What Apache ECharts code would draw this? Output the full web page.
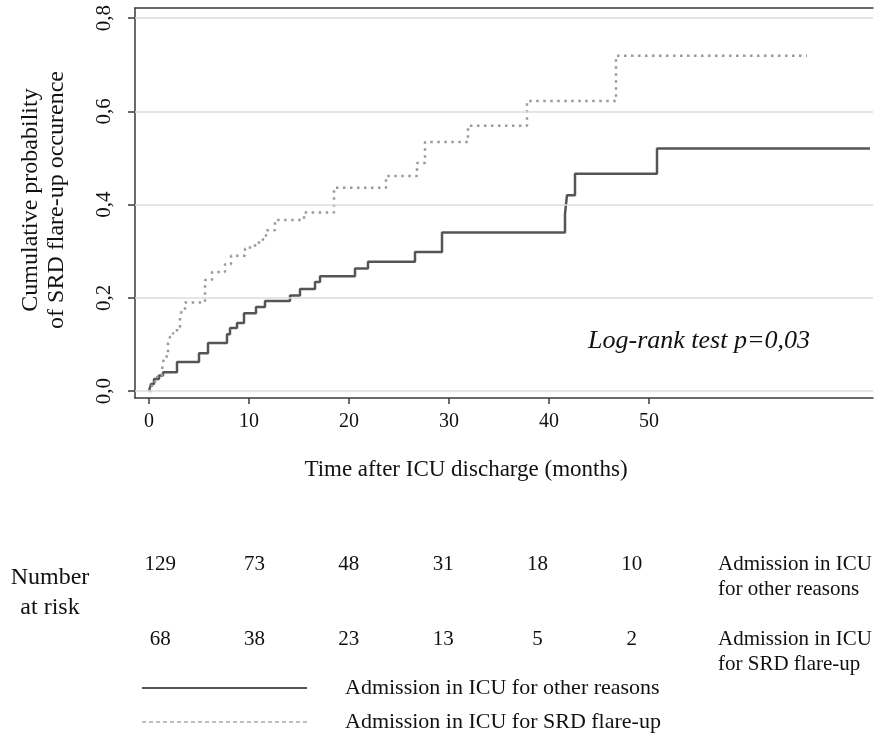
<!DOCTYPE html>
<html>
<head>
<meta charset="utf-8">
<script src="https://cdn.jsdelivr.net/npm/echarts@6/dist/echarts.min.js"></script>
<style>
  html, body { margin: 0; padding: 0; background: #fff; }
  #chart { width: 875px; height: 739px; }
</style>
</head>
<body>
<div id="chart"></div>
<script>
// step curves: time (months) where the cumulative probability changes, and the new value
let otherT = [0, 0.2, 0.5, 1.0, 1.4, 2.8, 5.0, 5.9, 7.8, 8.1, 8.8, 9.5, 10.7, 11.6, 14.1, 15.1, 16.6, 17.1, 20.6, 21.9, 26.6, 29.3, 41.6, 41.8, 42.6, 50.8, 72.1];
let otherP = [0, 0.015, 0.026, 0.033, 0.04, 0.062, 0.081, 0.103, 0.122, 0.135, 0.146, 0.167, 0.18, 0.193, 0.205, 0.219, 0.234, 0.246, 0.263, 0.277, 0.298, 0.34, 0.38, 0.42, 0.466, 0.52, 0.52];

let srdT = [0, 0.3, 0.6, 1.3, 1.5, 1.9, 2.1, 2.4, 2.8, 3.1, 3.3, 3.6, 5.6, 6.3, 7.6, 8.2, 9.6, 10.1, 11.0, 11.7, 12.6, 15.5, 18.5, 23.7, 26.8, 27.6, 31.9, 37.8, 46.7, 65.8];
let srdP = [0, 0.015, 0.03, 0.044, 0.074, 0.103, 0.116, 0.124, 0.137, 0.16, 0.174, 0.19, 0.238, 0.255, 0.272, 0.29, 0.305, 0.312, 0.325, 0.345, 0.367, 0.383, 0.436, 0.461, 0.489, 0.534, 0.569, 0.622, 0.719, 0.719];

let xTicks = [0, 10, 20, 30, 40, 50];
let yTicks = [0, 0.2, 0.4, 0.6, 0.8];

// numbers at risk
let riskTimes = ['0', '10', '20', '30', '40', '50'];
let riskOther = [129, 73, 48, 31, 18, 10];
let riskSRD = [68, 38, 23, 13, 5, 2];

let nameOther = 'Admission in ICU for other reasons';
let nameSRD = 'Admission in ICU for SRD flare-up';

let font = "'Liberation Serif', 'Times New Roman', serif";
let axisColor = '#3a3a3a';
let colorOther = '#555';
let colorSRD = '#9a9a9a';

let chart = echarts.init(document.getElementById('chart'));

let pairs = function (t, p) {
    return t.map(function (v, i) { return [v, p[i]]; });
};

let riskData = function (vals, row) {
    return vals.map(function (v, i) { return [i, row, v]; });
};

let option = {
    animation: false,
    backgroundColor: '#fff',
    textStyle: { fontFamily: font, color: '#111' },
    grid: [
        { left: 135, right: 2, top: 8, height: 390 },
        { left: 113, width: 566, top: 527, height: 150 }
    ],
    xAxis: [
        {
            gridIndex: 0,
            type: 'value',
            min: -1.4,
            max: 72.4,
            axisLine: { show: true, onZero: false, lineStyle: { color: axisColor, width: 1.5 } },
            axisTick: { show: true, customValues: xTicks, length: 6, lineStyle: { color: axisColor, width: 1.5 } },
            axisLabel: { customValues: xTicks, margin: 14, fontSize: 20, color: '#111', fontFamily: font },
            splitLine: { show: false }
        },
        {
            gridIndex: 0,
            type: 'value',
            position: 'top',
            min: -1.4,
            max: 72.4,
            axisLine: { show: true, onZero: false, lineStyle: { color: axisColor, width: 1.5 } },
            axisTick: { show: false },
            axisLabel: { show: false },
            splitLine: { show: false }
        },
        {
            gridIndex: 1,
            type: 'category',
            data: riskTimes,
            show: false
        }
    ],
    yAxis: [
        {
            gridIndex: 0,
            type: 'value',
            min: -0.015,
            max: 0.8215,
            axisLine: { show: true, onZero: false, lineStyle: { color: axisColor, width: 1.5 } },
            axisTick: { show: true, customValues: yTicks, length: 7, lineStyle: { color: axisColor, width: 1.5 } },
            axisLabel: {
                customValues: yTicks,
                rotate: 90,
                margin: 20,
                fontSize: 21,
                color: '#111',
                fontFamily: font,
                formatter: function (v) { return v.toFixed(1).replace('.', ','); }
            },
            splitLine: { show: false }
        },
        {
            gridIndex: 1,
            type: 'category',
            data: ['other', 'srd'],
            inverse: true,
            show: false
        }
    ],
    series: [
        {
            name: nameOther,
            type: 'line',
            xAxisIndex: 0,
            yAxisIndex: 0,
            step: 'end',
            symbol: 'none',
            data: pairs(otherT, otherP),
            lineStyle: { color: colorOther, width: 2.5 },
            itemStyle: { color: colorOther },
            markLine: {
                silent: true,
                symbol: 'none',
                label: { show: false },
                lineStyle: { color: '#dcdcdc', width: 1.5, type: 'solid' },
                data: yTicks.map(function (v) { return { yAxis: v }; })
            },
            z: 3
        },
        {
            name: nameSRD,
            type: 'line',
            xAxisIndex: 0,
            yAxisIndex: 0,
            step: 'end',
            symbol: 'none',
            data: pairs(srdT, srdP),
            lineStyle: { color: colorSRD, width: 2.5, type: [2.5, 4.5] },
            itemStyle: { color: colorSRD },
            z: 3
        },
        {
            type: 'scatter',
            xAxisIndex: 2,
            yAxisIndex: 1,
            symbolSize: 0,
            itemStyle: { color: '#111', opacity: 1 },
            label: {
                show: true,
                position: 'inside',
                fontSize: 21,
                color: '#111',
                fontFamily: font,
                formatter: function (p) { return p.value[2]; }
            },
            data: riskData(riskOther, 0).concat(riskData(riskSRD, 1))
        }
    ],
    graphic: [
        {
            type: 'text',
            x: 44, y: 200,
            rotation: Math.PI / 2,
            style: {
                text: 'Cumulative probability\nof SRD flare-up occurence',
                font: '24px ' + font,
                fill: '#111',
                align: 'center',
                verticalAlign: 'middle',
                lineHeight: 26
            }
        },
        {
            type: 'text',
            x: 466, y: 470,
            style: {
                text: 'Time after ICU discharge (months)',
                font: '23px ' + font,
                fill: '#111',
                align: 'center',
                verticalAlign: 'middle'
            }
        },
        {
            type: 'text',
            x: 699, y: 341,
            style: {
                text: 'Log-rank test p=0,03',
                font: 'italic 26px ' + font,
                fill: '#111',
                align: 'center',
                verticalAlign: 'middle'
            }
        },
        {
            type: 'text',
            x: 50, y: 593,
            style: {
                text: 'Number\nat risk',
                font: '24px ' + font,
                fill: '#111',
                align: 'center',
                verticalAlign: 'middle',
                lineHeight: 30
            }
        },
        {
            type: 'text',
            x: 718, y: 577,
            style: {
                text: 'Admission in ICU\nfor other reasons',
                font: '21px ' + font,
                fill: '#111',
                align: 'left',
                verticalAlign: 'middle',
                lineHeight: 25
            }
        },
        {
            type: 'text',
            x: 718, y: 652,
            style: {
                text: 'Admission in ICU\nfor SRD flare-up',
                font: '21px ' + font,
                fill: '#111',
                align: 'left',
                verticalAlign: 'middle',
                lineHeight: 25
            }
        },
        // legend
        {
            type: 'line',
            shape: { x1: 142, y1: 688, x2: 307, y2: 688 },
            style: { stroke: colorOther, lineWidth: 2 }
        },
        {
            type: 'line',
            shape: { x1: 142, y1: 722, x2: 307, y2: 722 },
            style: { stroke: '#aaa', lineWidth: 1.5, lineDash: [4, 3] }
        },
        {
            type: 'text',
            x: 345, y: 688,
            style: { text: nameOther, font: '22px ' + font, fill: '#111', verticalAlign: 'middle' }
        },
        {
            type: 'text',
            x: 345, y: 722,
            style: { text: nameSRD, font: '22px ' + font, fill: '#111', verticalAlign: 'middle' }
        }
    ]
};

chart.setOption(option);
</script>
</body>
</html>
